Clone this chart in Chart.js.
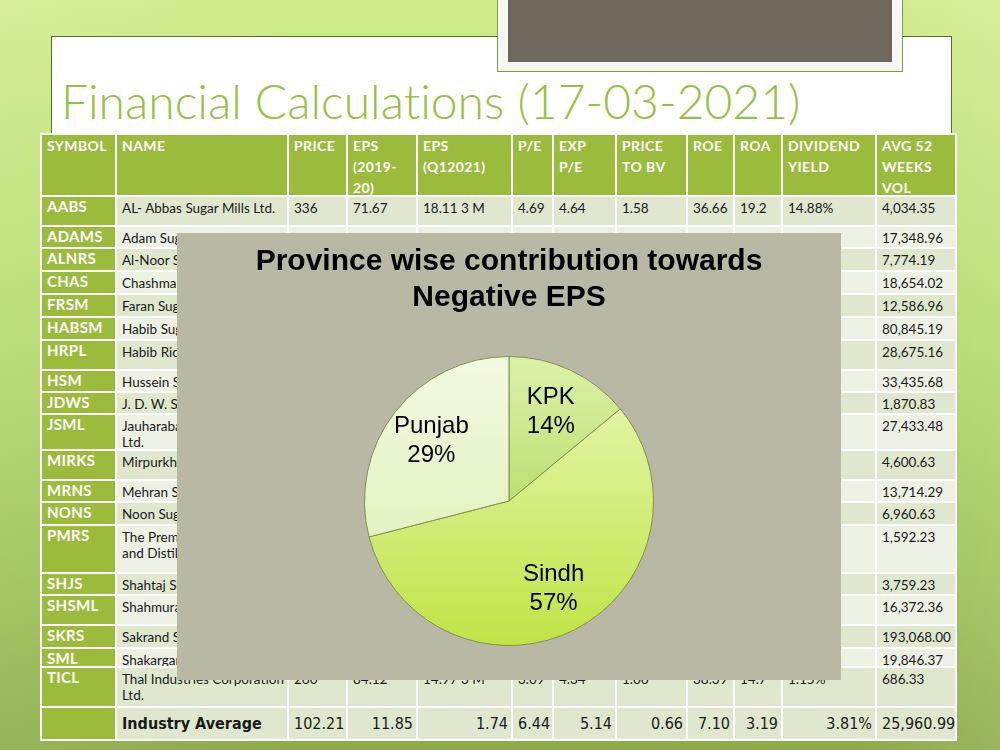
<!DOCTYPE html>
<html>
<head>
<meta charset="utf-8">
<script src="https://cdn.jsdelivr.net/npm/chart.js@4/dist/chart.umd.min.js"></script>
<style>
  html, body { margin: 0; padding: 0; }
  body {
    width: 1000px; height: 750px; position: relative; overflow: hidden;
    background:
      linear-gradient(90deg, rgba(255,255,255,0.10) 0%, rgba(255,255,255,0) 30%, rgba(255,255,255,0) 85%, rgba(255,255,255,0.12) 100%),
      linear-gradient(180deg, #d0ec8c 0%, #b5da6c 45%, #9ec257 75%, #8cab48 100%);
    font-family: Lato, "DejaVu Sans", sans-serif;
  }
  #sheet {
    position: absolute; left: 51px; top: 36px; width: 899px; height: 700px;
    background: #fff; border: 1px solid #53702a; border-bottom: none;
  }
  #photo {
    position: absolute; left: 497px; top: -2px; width: 406px; height: 74px;
    background: #f6f6f2; border: 1px solid #7e9e3e; box-sizing: border-box;
  }
  #photo div {
    position: absolute; left: 10px; top: 0; right: 10px; bottom: 9px; background: #6f695d;
  }
  #title {
    position: absolute; left: 61px; top: 72px; margin: 0;
    font: 300 48px Lato, "Open Sans", sans-serif; color: #98bf45;
    font-variant-ligatures: none; white-space: nowrap;
  }
  #tbl {
    position: absolute; left: 40px; top: 133px; width: 915px;
    border-collapse: collapse; table-layout: fixed; border: 1px solid #86a646;
  }
  #tbl td, #tbl th {
    border: 2px solid #fff; padding: 0; vertical-align: top; text-align: left;
    font-size: 13.5px; color: #1a1a1a;
  }
  #tbl .c {
    overflow: hidden; white-space: pre; box-sizing: border-box;
    padding: 3px 3px 0 5px; line-height: 16px;
  }
  #tbl th {
    background: #9bbb3c; color: #fff; font-weight: 700; font-size: 14px; letter-spacing: 0.4px;
  }
  #tbl th .c { padding-top: 0; line-height: 21px; }
  #tbl td.sym { background: #9bbb3c; color: #fff; font-weight: 700; font-size: 15px; letter-spacing: 0.3px; }
  #tbl td.sym .c { line-height: 17px; padding-top: 1px; }
  #tbl tr.odd td { background: #dfe8cf; }
  #tbl tr.even td { background: #ecf1e3; }
  #tbl tr td.sym { background: #9bbb3c; }
  #tbl tr.avg td {
    font-family: "Liberation Sans Narrow", "DejaVu Sans Condensed", sans-serif;
    font-size: 16px; text-align: right;
  }
  #tbl tr.avg .c { padding-top: 6px; padding-right: 3px; line-height: 20px; }
  #tbl tr.avg td.name { text-align: left; font-weight: 700; }
  #panel {
    position: absolute; left: 177px; top: 233px; width: 664px; height: 447px; background: #b9b8a5;
  }
</style>
</head>
<body>
<div id="sheet"></div>
<div id="photo"><div></div></div>
<h1 id="title">Financial Calculations (17-03-2021)</h1>
<table id="tbl"></table>
<div id="panel"><canvas id="pie" width="664" height="447"></canvas></div>

<script>
// ── Pie data ──────────────────────────────────────────────────
const chartTitle = ['Province wise contribution towards', 'Negative EPS'];
const provinces  = ['KPK', 'Sindh', 'Punjab'];
const shares     = [14, 57, 29];

// ── Table data (behind the chart) ─────────────────────────────
const headers = ['SYMBOL', 'NAME', 'PRICE', 'EPS\n(2019-\n20)', 'EPS\n(Q12021)', 'P/E', 'EXP\nP/E',
                 'PRICE\nTO BV', 'ROE', 'ROA', 'DIVIDEND\nYIELD', 'AVG 52\nWEEKS\nVOL'];
const colWidths  = [75, 172, 59, 70, 95, 41, 63, 71, 47, 48, 94, 80];
const headerHeight = 62;
const rowHeights = [30, 22, 23, 23, 23, 23, 30, 22, 22, 36, 30, 22, 23, 48, 22, 30, 23, 19, 40];
const avgHeight = 33;
const rows = [
  ['AABS',  'AL- Abbas Sugar Mills Ltd.', '336', '71.67', '18.11 3 M', '4.69', '4.64', '1.58', '36.66', '19.2', '14.88%', '4,034.35'],
  ['ADAMS', 'Adam Sugar Mills Ltd', '25.97', '-13.43', '3.63 3 M', '0', '1.79', '0.12', '-6.33', '-3.21', '0.00%', '17,348.96'],
  ['ALNRS', 'Al-Noor Sugar Mills Ltd.', '', '', '', '', '', '', '', '', '', '7,774.19'],
  ['CHAS',  'Chashma Sugar Mills Ltd.', '', '', '', '', '', '', '', '', '', '18,654.02'],
  ['FRSM',  'Faran Sugar Mills Ltd.', '', '', '', '', '', '', '', '', '', '12,586.96'],
  ['HABSM', 'Habib Sugar Mills Ltd.', '', '', '', '', '', '', '', '', '', '80,845.19'],
  ['HRPL',  'Habib Rice Products Ltd.', '', '', '', '', '', '', '', '', '', '28,675.16'],
  ['HSM',   'Hussein Sugar Mills Ltd.', '', '', '', '', '', '', '', '', '', '33,435.68'],
  ['JDWS',  'J. D. W. Sugar Mills Ltd.', '', '', '', '', '', '', '', '', '', '1,870.83'],
  ['JSML',  'Jauharabad Sugar Mills\nLtd.', '', '', '', '', '', '', '', '', '', '27,433.48'],
  ['MIRKS', 'Mirpurkhas Sugar Mills Ltd.', '', '', '', '', '', '', '', '', '', '4,600.63'],
  ['MRNS',  'Mehran Sugar Mills Ltd.', '', '', '', '', '', '', '', '', '', '13,714.29'],
  ['NONS',  'Noon Sugar Mills Ltd.', '', '', '', '', '', '', '', '', '', '6,960.63'],
  ['PMRS',  'The Premier Sugar Mills\nand Distillery Co. Ltd.', '', '', '', '', '', '', '', '', '', '1,592.23'],
  ['SHJS',  'Shahtaj Sugar Mills Ltd.', '', '', '', '', '', '', '', '', '', '3,759.23'],
  ['SHSML', 'Shahmurad Sugar Mills Ltd.', '', '', '', '', '', '', '', '', '', '16,372.36'],
  ['SKRS',  'Sakrand Sugar Mills Ltd.', '', '', '', '', '', '', '', '', '', '193,068.00'],
  ['SML',   'Shakarganj Ltd.', '', '', '', '', '', '', '', '', '', '19,846.37'],
  ['TICL',  'Thal Industries Corporation\nLtd.', '260', '84.12', '14.97 3 M', '3.09', '4.34', '1.06', '38.39', '14.7', '1.15%', '686.33']
];
const industryAvg = ['', 'Industry Average', '102.21', '11.85', '1.74', '6.44', '5.14', '0.66', '7.10', '3.19', '3.81%', '25,960.99'];

// ── Build table ───────────────────────────────────────────────
function cell(tag, cls, text, h) {
  return `<${tag} class="${cls}"><div class="c" style="height:${h - 2}px">${text}</div></${tag}>`;
}

function buildTable() {
  const tbl = document.getElementById('tbl');
  const cls = j => (j === 0 ? 'sym' : (j === 1 ? 'name' : ''));
  let html = '<colgroup>' + colWidths.map(w => `<col style="width:${w}px">`).join('') + '</colgroup>';
  html += '<tr>' + headers.map(h => cell('th', '', h, headerHeight)).join('') + '</tr>';
  rows.forEach((r, i) => {
    html += `<tr class="${i % 2 ? 'even' : 'odd'}">` +
      r.map((v, j) => cell('td', cls(j), v, rowHeights[i])).join('') + '</tr>';
  });
  html += '<tr class="avg odd">' + industryAvg.map((v, j) => cell('td', cls(j), v, avgHeight)).join('') + '</tr>';
  tbl.innerHTML = html;
}

// ── Slice colours (gradient top → bottom) ─────────────────────
const sliceTop    = ['#dcf2a8', '#eaf7b8', '#f2f9e0'];
const sliceBottom = ['#9ecb3c', '#bfe445', '#d9eeac'];

// Labels inside each slice: name + percentage
const sliceLabels = {
  id: 'sliceLabels',
  afterDatasetsDraw(chart) {
    const ctx = chart.ctx;
    const meta = chart.getDatasetMeta(0);
    ctx.save();
    ctx.font = '24px "Liberation Sans", Arial, sans-serif';
    ctx.fillStyle = '#000';
    ctx.textAlign = 'center';
    ctx.textBaseline = 'middle';
    meta.data.forEach((arc, i) => {
      const p = arc.getProps(['x', 'y', 'startAngle', 'endAngle', 'outerRadius'], true);
      const mid = (p.startAngle + p.endAngle) / 2;
      const r = p.outerRadius * 0.68;
      const cx = p.x + Math.cos(mid) * r;
      const cy = p.y + Math.sin(mid) * r;
      ctx.fillText(chart.data.labels[i], cx, cy - 14.5);
      ctx.fillText(shares[i] + '%', cx, cy + 14.5);
    });
    ctx.restore();
  }
};

function drawPie() {
  new Chart(document.getElementById('pie'), {
    type: 'pie',
    data: {
      labels: provinces,
      datasets: [{
        data: shares,
        backgroundColor: (c) => {
          const area = c.chart.chartArea;
          if (!area) return sliceTop[c.dataIndex];
          const g = c.chart.ctx.createLinearGradient(0, area.top, 0, area.bottom);
          g.addColorStop(0, sliceTop[c.dataIndex]);
          g.addColorStop(1, sliceBottom[c.dataIndex]);
          return g;
        },
        borderColor: '#7f9050',
        borderWidth: 1
      }]
    },
    options: {
      responsive: false,
      animation: false,
      events: [],
      layout: { padding: { top: 0, bottom: 34, left: 0, right: 0 } },
      plugins: {
        legend: { display: false },
        tooltip: { enabled: false },
        title: {
          display: true,
          text: chartTitle,
          color: '#000',
          font: { family: '"Liberation Sans", Arial, sans-serif', size: 30, weight: 'bold', lineHeight: 1.2 },
          padding: { top: 11, bottom: 40 }
        }
      }
    },
    plugins: [sliceLabels]
  });
}

window.onload = () => {
  buildTable();
  drawPie();
};
</script>
</body>
</html>
